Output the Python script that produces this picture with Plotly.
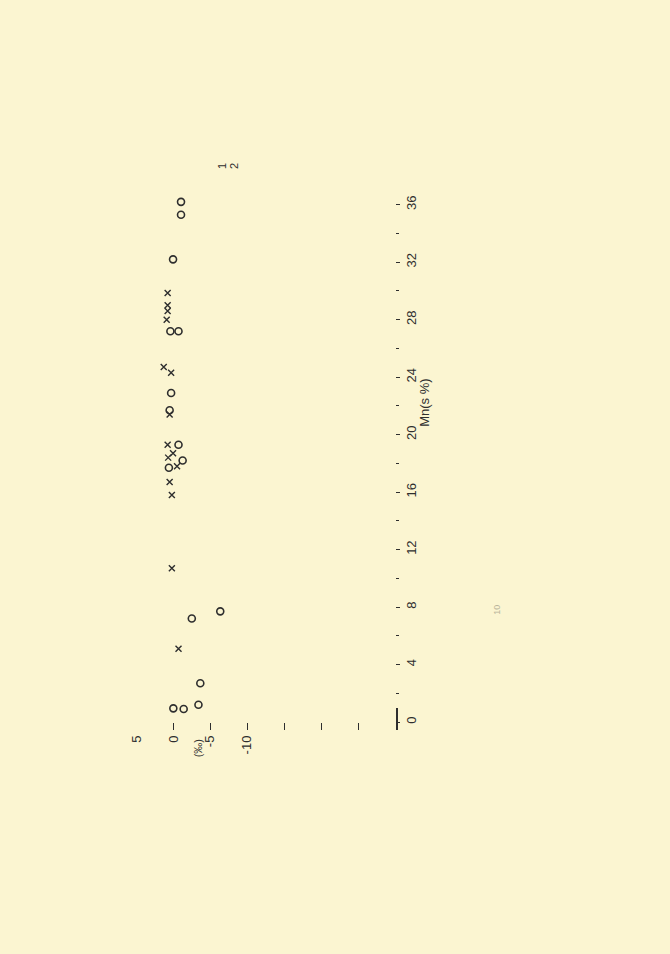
import plotly.graph_objects as go

# Series "x" markers: (delta permil, Mn %)
cross_delta = [0.77, 0.77, 0.77, 0.9, 1.3, 0.3, 0.5, 0.77, 0.04, 0.7, -0.5, 0.5, 0.2, 0.2, -0.7]
cross_mn = [29.85, 29.0, 28.6, 28.0, 24.7, 24.3, 21.4, 19.3, 18.7, 18.4, 17.8, 16.7, 15.8, 10.7, 5.1]

# Series "o" markers
circ_delta = [-1.04, -1.04, 0.04, 0.4, -0.7, 0.3, 0.5, -0.7, -1.26, 0.6, -6.35, -2.5, -3.65, 0.0, -1.4, -3.4]
circ_mn = [36.2, 35.3, 32.2, 27.2, 27.2, 22.9, 21.7, 19.3, 18.2, 17.7, 7.7, 7.2, 2.7, 0.95, 0.9, 1.2]

x_ticks = [5, 0, -5, -10]
x_ticklabels = ["5", "0", "-5", "-10"]
x_minor = [0, -5, -10, -15, -20, -25]
y_ticks = [0, 4, 8, 12, 16, 20, 24, 28, 32, 36]
y_minor = [2, 6, 10, 14, 18, 22, 26, 30, 34]

INK = "#2e2e2e"
BG = "#fbf5d1"
FONT = "Liberation Sans"

# pixel geometry of plot area
L, R, T, B = 128.6, 395.0, 176.3, 722.0
W, H = 670, 954

def px(x):
    return (x - L) / (R - L)

def py(y):
    return (B - y) / (B - T)

fig = go.Figure()
fig.add_trace(go.Scatter(
    x=cross_delta, y=cross_mn, mode="markers", name="1",
    marker=dict(symbol="x-thin", size=6, line=dict(width=1.4, color=INK), color=INK),
    showlegend=False, cliponaxis=False))
fig.add_trace(go.Scatter(
    x=circ_delta, y=circ_mn, mode="markers", name="2",
    marker=dict(symbol="circle-open", size=7, line=dict(width=1.6, color=INK), color=INK),
    showlegend=False, cliponaxis=False))

fig.update_layout(
    width=W, height=H,
    margin=dict(l=L, r=W - R, t=T, b=H - B, autoexpand=False),
    paper_bgcolor=BG, plot_bgcolor=BG,
    font=dict(family=FONT, size=13, color=INK),
    xaxis=dict(range=[6, -30], showgrid=False, zeroline=False, showline=False,
               tickvals=x_ticks, ticktext=x_ticklabels, tickangle=-90, ticks="",
               ticklabelstandoff=10,
               minor=dict(tickvals=x_minor, ticks="outside", ticklen=7, tickwidth=1.2,
                          tickcolor=INK, showgrid=False)),
    yaxis=dict(range=[0, 38], side="right", showgrid=False, zeroline=False, showline=False,
               tickvals=y_ticks, ticktext=[str(v) for v in y_ticks], tickangle=-90,
               ticks="outside", ticklen=4, tickwidth=1.2, tickcolor=INK,
               minor=dict(tickvals=y_minor, ticks="outside", ticklen=3, tickwidth=1,
                          tickcolor=INK, showgrid=False)),
)

def ann(text, x, y, size=13, color=INK):
    fig.add_annotation(text=text, x=px(x), y=py(y), xref="paper", yref="paper",
                       showarrow=False, textangle=-90, font=dict(size=size, color=color, family=FONT),
                       xanchor="center", yanchor="middle")

ann("Mn(s %)", 425, 403)
ann("(‰)", 198, 748, size=11)
ann("1", 221, 166, size=11)
ann("2", 233, 166, size=11)
ann("10", 497, 610, size=9, color="#b9b49a")

fig.add_shape(type="line", xref="paper", yref="paper",
              x0=px(397), x1=px(397), y0=py(730), y1=py(708),
              line=dict(color=INK, width=2))

fig.write_html("out.html", config={"displayModeBar": False},
               post_script="document.body.style.margin='0';document.body.style.background='%s';" % BG)
